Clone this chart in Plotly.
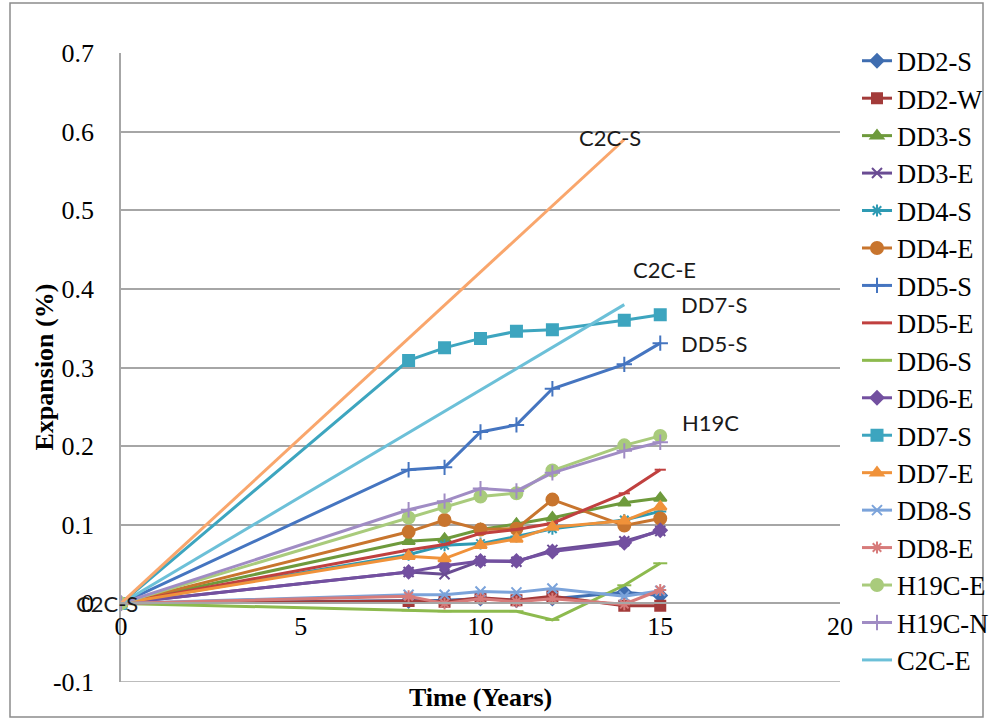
import plotly.graph_objects as go

# Measurement ages (years) shared by the prism series
years = [0, 8, 9, 10, 11, 12, 14, 15]
c2c_years = [0, 14]

dd2_s = [0, 0.003, 0.004, 0.006, 0.004, 0.006, 0.014, 0.010]
dd2_w = [0, 0.003, 0.002, 0.007, 0.004, 0.009, -0.003, -0.003]
dd3_s = [0, 0.079, 0.082, 0.094, 0.101, 0.109, 0.128, 0.134]
dd3_e = [0, 0.040, 0.037, 0.054, 0.053, 0.068, 0.079, 0.092]
dd4_s = [0, 0.062, 0.074, 0.076, 0.085, 0.095, 0.106, 0.117]
dd4_e = [0, 0.091, 0.106, 0.094, 0.095, 0.132, 0.099, 0.108]
dd5_s = [0, 0.170, 0.173, 0.218, 0.227, 0.273, 0.304, 0.331]
dd5_e = [0, 0.068, 0.075, 0.089, 0.094, 0.102, 0.140, 0.170]
dd6_s = [0, -0.009, -0.010, -0.010, -0.010, -0.021, 0.023, 0.051]
dd6_e = [0, 0.040, 0.048, 0.054, 0.054, 0.066, 0.077, 0.093]
dd7_s = [0, 0.309, 0.325, 0.337, 0.346, 0.348, 0.360, 0.367]
dd7_e = [0, 0.060, 0.057, 0.074, 0.082, 0.097, 0.105, 0.123]
dd8_s = [0, 0.011, 0.011, 0.015, 0.014, 0.019, 0.009, 0.016]
dd8_e = [0, 0.009, 0.000, 0.006, 0.002, 0.006, -0.001, 0.017]
h19c_e = [0, 0.109, 0.123, 0.136, 0.140, 0.169, 0.201, 0.213]
h19c_n = [0, 0.119, 0.130, 0.146, 0.143, 0.166, 0.194, 0.205]
c2c_e = [0, 0.380]
c2c_s = [0, 0.590]

x_ticks = [0, 5, 10, 15, 20]
y_ticks = [-0.1, 0, 0.1, 0.2, 0.3, 0.4, 0.5, 0.6, 0.7]
y_tick_labels = ["-0.1", "0", "0.1", "0.2", "0.3", "0.4", "0.5", "0.6", "0.7"]

# name, x, y, colour, marker symbol, marker size
series = [
    ("DD2-S", years, dd2_s, "#3F6DB0", "diamond", 10),
    ("DD2-W", years, dd2_w, "#A33B3A", "square", 10),
    ("DD3-S", years, dd3_s, "#6E9A3C", "triangle-up", 11),
    ("DD3-E", years, dd3_e, "#6A4C93", "x-thin-open", 10),
    ("DD4-S", years, dd4_s, "#2E9AB3", "asterisk-open", 10),
    ("DD4-E", years, dd4_e, "#C8752E", "circle", 12),
    ("DD5-S", years, dd5_s, "#4575C0", "cross-thin-open", 11),
    ("DD5-E", years, dd5_e, "#C0403F", "line-ew-open", 8),
    ("DD6-S", years, dd6_s, "#8DBA4E", "line-ew-open", 10),
    ("DD6-E", years, dd6_e, "#7350A0", "diamond", 10),
    ("DD7-S", years, dd7_s, "#3DA5BF", "square", 11),
    ("DD7-E", years, dd7_e, "#F0923A", "triangle-up", 11),
    ("DD8-S", years, dd8_s, "#7BA3DA", "x-thin-open", 10),
    ("DD8-E", years, dd8_e, "#D77B7A", "asterisk-open", 10),
    ("H19C-E", years, h19c_e, "#A9CB7C", "circle", 12),
    ("H19C-N", years, h19c_n, "#A08CC4", "cross-thin-open", 11),
]

SERIF = "Liberation Serif, Times New Roman, serif"
SANS = "Lato, Open Sans, sans-serif"
GRID = "#A6A6A6"

fig = go.Figure()
for name, xs, ys, color, symbol, size in series:
    fig.add_trace(go.Scatter(
        x=xs, y=ys, name=name, mode="lines+markers",
        line=dict(color=color, width=3),
        marker=dict(symbol=symbol, size=size, color=color,
                    line=dict(color=color, width=2)),
    ))

fig.add_trace(go.Scatter(x=c2c_years, y=c2c_e, name="C2C-E", mode="lines",
                         line=dict(color="#6CC0D8", width=3)))
fig.add_trace(go.Scatter(x=c2c_years, y=c2c_s, name="C2C-S", mode="lines",
                         line=dict(color="#F9A66C", width=3), showlegend=False))

label_font = dict(family=SANS, size=22, color="#1a1a1a")
annotations = [
    dict(x=c2c_years[0], y=c2c_s[0], text="C2C-S", xshift=-14, yshift=0),
    dict(x=c2c_years[-1], y=c2c_s[-1], text="C2C-S", xshift=-14, yshift=2),
    dict(x=c2c_years[-1], y=c2c_e[-1], text="C2C-E", xshift=40, yshift=35),
    dict(x=years[-1], y=dd7_s[-1], text="DD7-S", xshift=54, yshift=10),
    dict(x=years[-1], y=dd5_s[-1], text="DD5-S", xshift=54, yshift=0),
    dict(x=years[-1], y=h19c_e[-1], text="H19C", xshift=50, yshift=13),
]
for a in annotations:
    a.update(xref="x", yref="y", showarrow=False, font=label_font)

annotations += [
    dict(xref="paper", yref="paper", x=(44 - 121) / 719, y=0.5,
         xanchor="center", yanchor="middle",
         text="<b>Expansion (%)</b>", textangle=-90, showarrow=False,
         font=dict(family=SERIF, size=26, color="black")),
    dict(xref="paper", yref="paper", x=0.5, y=(682 - 697) / 629,
         xanchor="center", yanchor="middle",
         text="<b>Time (Years)</b>", showarrow=False,
         font=dict(family=SERIF, size=26, color="black")),
]

fig.update_layout(
    width=989, height=721,
    margin=dict(l=121, r=149, t=53, b=39, autoexpand=False),
    paper_bgcolor="white", plot_bgcolor="white",
    showlegend=True,
    legend=dict(
        xref="container", yref="container", x=857 / 989, y=1 - 37 / 721,
        xanchor="left", yanchor="top", maxheight=700,
        font=dict(family=SERIF, size=26.5, color="black"),
        bgcolor="rgba(0,0,0,0)", borderwidth=0, itemwidth=30,
    ),
    annotations=annotations,
    shapes=[
        dict(type="rect", xref="paper", yref="paper",
             x0=(10 - 121) / 719, x1=(983 - 121) / 719,
             y0=(682 - 717) / 629, y1=(682 - 3) / 629,
             line=dict(color="#8C8C8C", width=1.5), fillcolor="rgba(0,0,0,0)",
             layer="below"),
        # bottom edge of the plot area at the lowest gridline
        dict(type="line", xref="paper", yref="y", x0=0, x1=1,
             y0=y_ticks[0], y1=y_ticks[0],
             line=dict(color=GRID, width=1.5), layer="below"),
    ],
)

fig.update_xaxes(
    range=[0, 20], tickvals=x_ticks, ticktext=[str(t) for t in x_ticks],
    anchor="free", position=0.1 / 0.8,
    showgrid=False, zeroline=False, showline=True, linecolor=GRID, linewidth=1.5,
    ticks="", tickfont=dict(family=SERIF, size=26, color="black"),
)
fig.update_yaxes(
    range=[-0.1, 0.7], tickvals=y_ticks, ticktext=y_tick_labels,
    showgrid=True, gridcolor=GRID, gridwidth=1.5,
    zeroline=True, zerolinecolor=GRID, zerolinewidth=1.5,
    showline=True, linecolor=GRID, linewidth=1.5,
    ticks="", ticklabelstandoff=20,
    tickfont=dict(family=SERIF, size=26, color="black"),
)

fig.write_html("out.html")
